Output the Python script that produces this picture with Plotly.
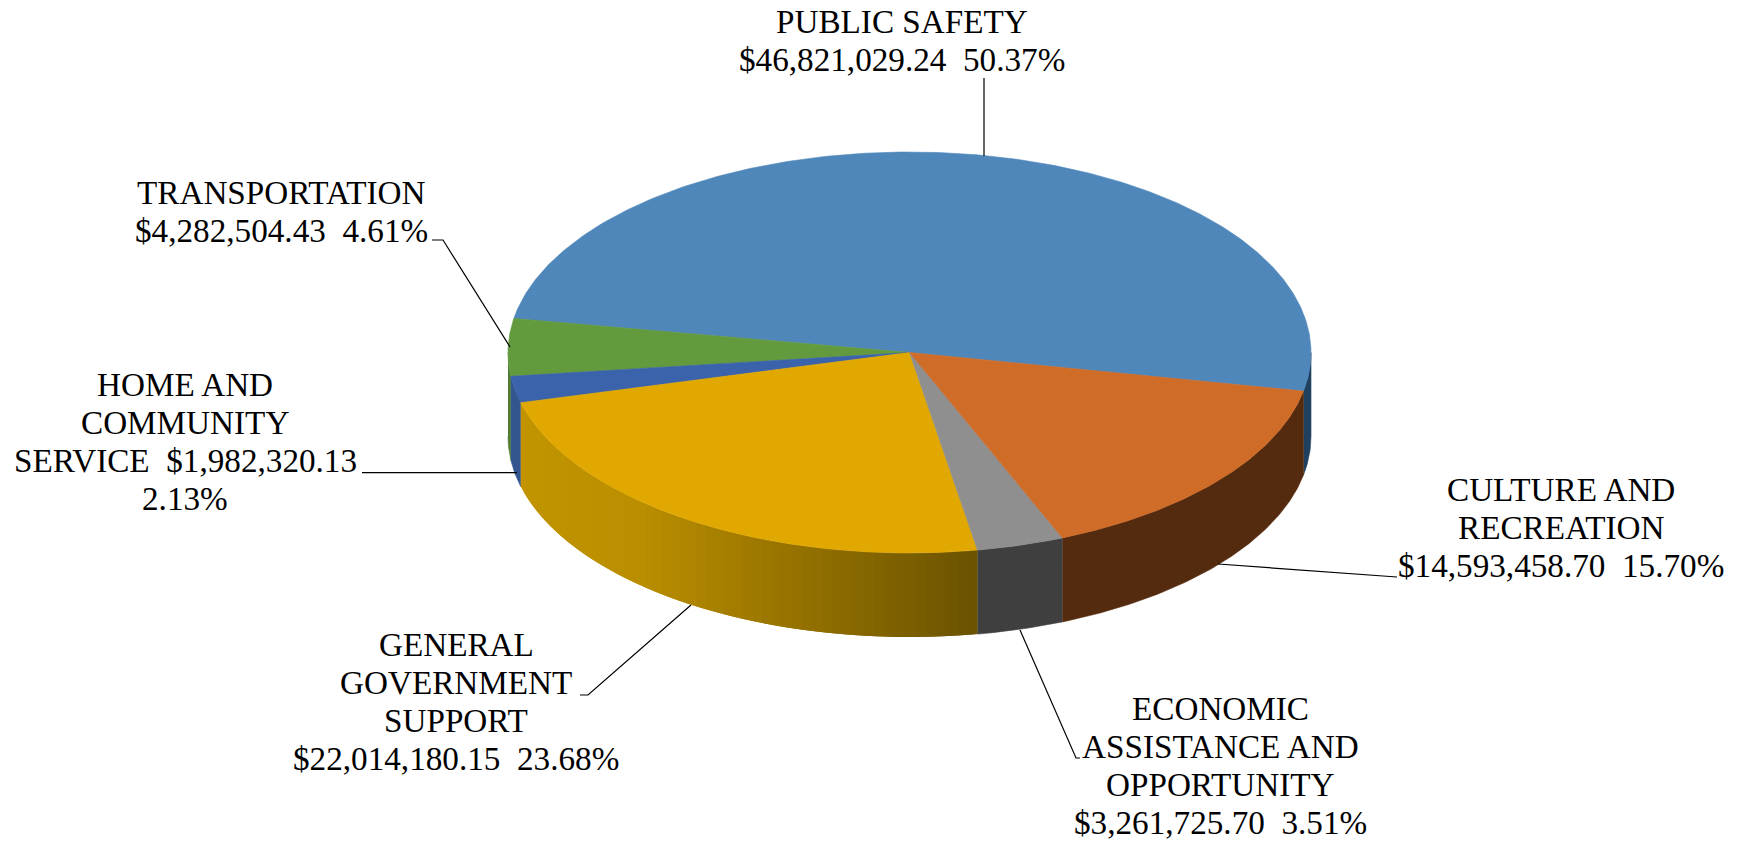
import numpy as np
import plotly.graph_objects as go

# Spending by function, in dollars, in drawing order (counter-clockwise)
categories = [
    "PUBLIC SAFETY",
    "TRANSPORTATION",
    "HOME AND COMMUNITY SERVICE",
    "GENERAL GOVERNMENT SUPPORT",
    "ECONOMIC ASSISTANCE AND OPPORTUNITY",
    "CULTURE AND RECREATION",
]
amounts = [46821029.24, 4282504.43, 1982320.13, 22014180.15, 3261725.70, 14593458.70]

top_colors = ["#4f87ba", "#639a3e", "#3b63ab", "#e0a800", "#8f8f8f", "#ce6c28"]
wall_colors = ["#20405f", "#4f7a32", "#335690", None, "#3f3f3f", "#552b10"]

# Gold wall shading runs from light at the left to dark at the right
gold_stops_x = [515, 640, 800, 977]
gold_stops_rgb = [(194, 148, 0), (186, 142, 0), (148, 113, 0), (106, 82, 0)]

W, H = 1740, 843
CX, CY, RX, RY, DEPTH = 909.5, 352.5, 401.5, 200.5, 84
START_DEG = -11.1
FONT_SIZE = 33.2
LINE_STEP = 38.3

# Wrapped first lines of each label, then centre x and first-line y
label_heads = [
    ["PUBLIC SAFETY"],
    ["TRANSPORTATION"],
    ["HOME AND", "COMMUNITY"],
    ["GENERAL", "GOVERNMENT", "SUPPORT"],
    ["ECONOMIC", "ASSISTANCE AND", "OPPORTUNITY"],
    ["CULTURE AND", "RECREATION"],
]
label_x = [902, 281, 185, 456, 1220, 1561]
label_y = [21, 192, 384, 644, 708, 489]

leaders = [
    ([984, 984], [78, 156]),
    ([432, 443, 510], [240, 240, 347]),
    ([362, 517], [472.7, 472.7]),
    ([691, 588, 580], [605, 695, 695]),
    ([1020, 1076, 1080], [630, 758, 758]),
    ([1218, 1393, 1397], [564, 577, 577]),
]


def ring(t_deg):
    t = np.radians(t_deg)
    return CX + RX * np.cos(t), CY - RY * np.sin(t)


def gold_at(x):
    rgb = [np.interp(x, gold_stops_x, [c[i] for c in gold_stops_rgb]) for i in range(3)]
    return "rgb(%d,%d,%d)" % tuple(round(v) for v in rgb)


def polygon(xs, ys, color, width=0.6):
    return go.Scatter(
        x=list(xs), y=list(ys), mode="lines", fill="toself", fillcolor=color,
        line=dict(color=color, width=width), hoverinfo="skip", showlegend=False,
    )


total = sum(amounts)
sweeps = [a / total * 360 for a in amounts]
edges = START_DEG + np.concatenate([[0], np.cumsum(sweeps)])

fig = go.Figure()

# Outer wall: only the front half of the cylinder can be seen
for i, (a, b) in enumerate(zip(edges[:-1], edges[1:])):
    for lo, hi in [(a, b), (a + 360, b + 360), (a - 360, b - 360)]:
        lo, hi = max(lo, 180), min(hi, 360)
        if hi <= lo:
            continue
        if wall_colors[i] is None:
            # Each band runs one step past its end, so the next band paints
            # over its edge and no seam shows through
            cuts = np.arange(lo, hi, 1.5).tolist()
            for p in cuts:
                q = min(p + 3.0, hi)
                ts = np.linspace(p, q, 6)
                x, y = ring(ts)
                mid = ring(p + 0.75)[0]
                fig.add_trace(polygon(
                    np.r_[x, x[::-1]], np.r_[y, y[::-1] + DEPTH], gold_at(mid), width=0))
        else:
            ts = np.linspace(lo, hi, max(int(hi - lo) * 2, 4))
            x, y = ring(ts)
            fig.add_trace(polygon(
                np.r_[x, x[::-1]], np.r_[y, y[::-1] + DEPTH], wall_colors[i]))

# Top face wedges
for i, (a, b) in enumerate(zip(edges[:-1], edges[1:])):
    ts = np.linspace(a, b, max(int(b - a) * 2, 8))
    x, y = ring(ts)
    fig.add_trace(polygon(np.r_[CX, x, CX], np.r_[CY, y, CY], top_colors[i]))

# Leader lines
for lx, ly in leaders:
    fig.add_trace(go.Scatter(
        x=lx, y=ly, mode="lines", line=dict(color="black", width=1.2),
        hoverinfo="skip", showlegend=False,
    ))

# Labels, one annotation per line so the line spacing can be set exactly
for i, amount in enumerate(amounts):
    money = f"${amount:,.2f}"
    pct = f"{amount / total:.2%}"
    lines = list(label_heads[i])
    if categories[i].startswith("HOME"):
        lines += [f"SERVICE  {money}", pct]
    else:
        lines += [f"{money}  {pct}"]
    for k, line in enumerate(lines):
        fig.add_annotation(
            x=label_x[i], y=label_y[i] + k * LINE_STEP, text=line.replace("  ", "\u00a0\u00a0"),
            showarrow=False, xanchor="center", yanchor="middle",
            font=dict(family="Liberation Serif", size=FONT_SIZE, color="black"),
        )

fig.update_layout(
    width=W, height=H, autosize=False,
    margin=dict(l=0, r=0, t=0, b=0),
    paper_bgcolor="white", plot_bgcolor="white",
    xaxis=dict(range=[0, W], visible=False, fixedrange=True),
    yaxis=dict(range=[H, 0], visible=False, fixedrange=True),
    showlegend=False,
)
fig.write_html("out.html")
